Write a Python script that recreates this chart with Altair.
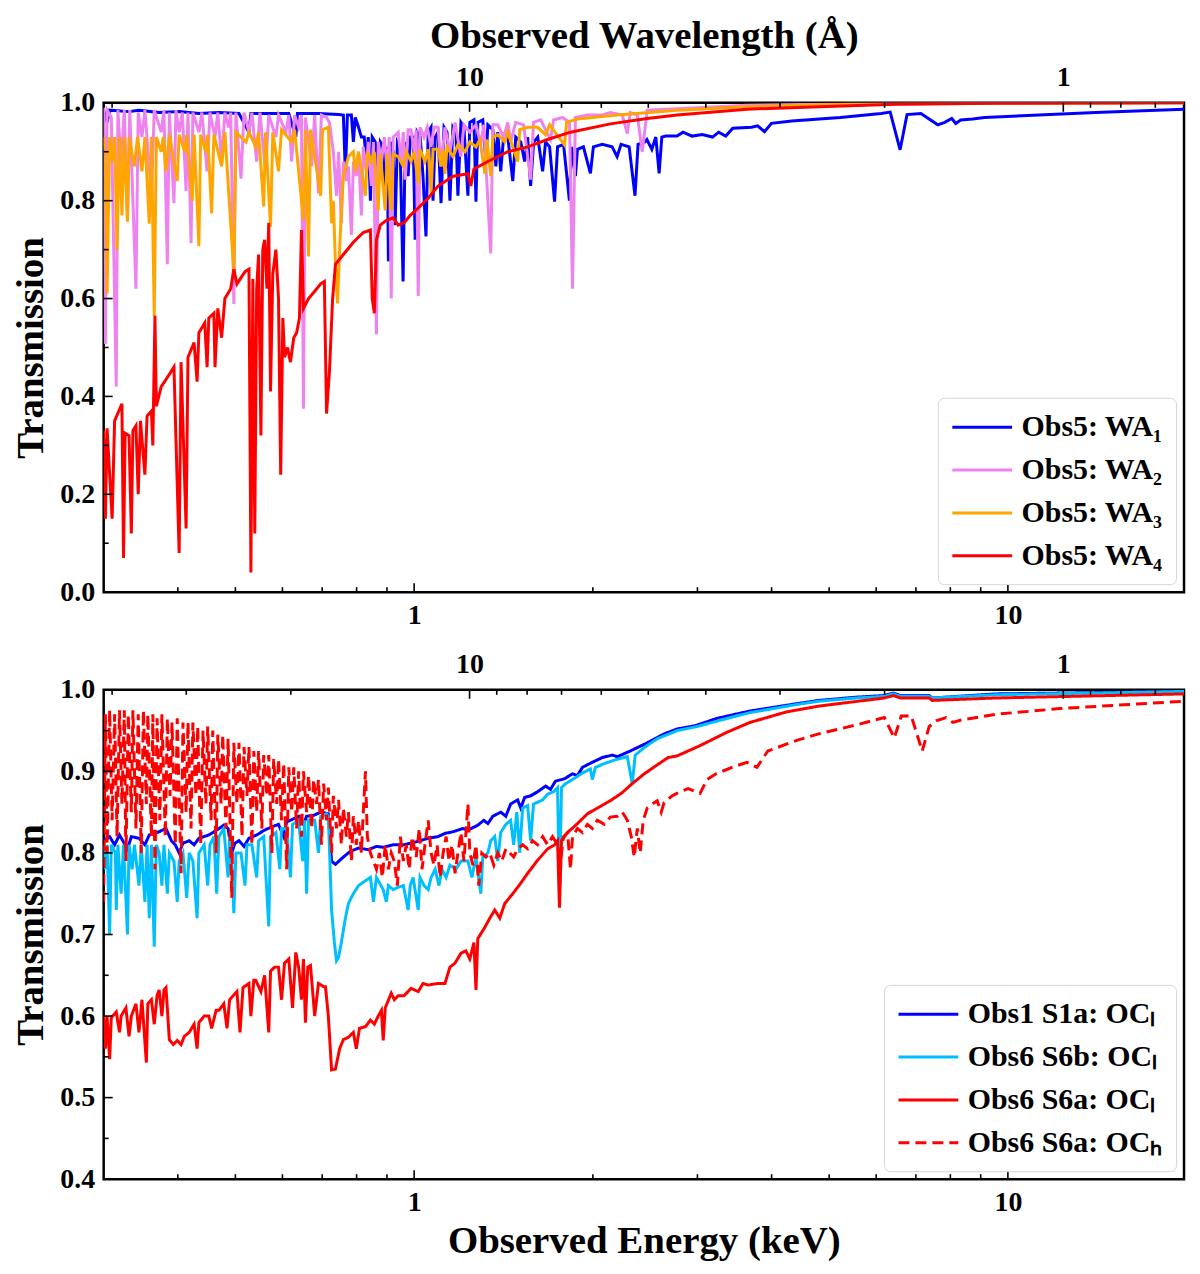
import altair as alt
import pandas as pd

FONT = "Liberation Serif"
HC = 12.398  # keV * Angstrom, wavelength = HC / energy
E_MIN, E_MAX = 0.3, 19.8
PANEL_W, PANEL_H = 1084, 491

# ---- top panel: Obs5 warm absorbers, (observed energy in keV, transmission)
WA1 = [
    (0.300, 0.985), (0.304, 0.96), (0.307, 0.985), (0.331, 0.982), (0.344, 0.985),
    (0.372, 0.98), (0.402, 0.982), (0.434, 0.978), (0.469, 0.98), (0.507, 0.978),
    (0.527, 0.94), (0.531, 0.978), (0.569, 0.978), (0.615, 0.978), (0.632, 0.93),
    (0.636, 0.978), (0.690, 0.978), (0.746, 0.976), (0.760, 0.975), (0.766, 0.855),
    (0.772, 0.975), (0.784, 0.975), (0.790, 0.92), (0.796, 0.97), (0.806, 0.95),
    (0.815, 0.93), (0.824, 0.93), (0.831, 0.88), (0.837, 0.93), (0.844, 0.80),
    (0.850, 0.93), (0.860, 0.92), (0.870, 0.85), (0.877, 0.92), (0.887, 0.91),
    (0.894, 0.82), (0.901, 0.91), (0.905, 0.676), (0.912, 0.92), (0.922, 0.90),
    (0.929, 0.75), (0.937, 0.92), (0.947, 0.91), (0.958, 0.635), (0.966, 0.92),
    (0.977, 0.85), (0.985, 0.93), (0.996, 0.93), (1.004, 0.72), (1.012, 0.94),
    (1.024, 0.93), (1.035, 0.85), (1.047, 0.727), (1.056, 0.94), (1.068, 0.95),
    (1.076, 0.80), (1.085, 0.93), (1.097, 0.94), (1.110, 0.795), (1.123, 0.95),
    (1.136, 0.94), (1.149, 0.80), (1.162, 0.95), (1.176, 0.94), (1.185, 0.81),
    (1.199, 0.96), (1.213, 0.95), (1.232, 0.81), (1.241, 0.96), (1.261, 0.965),
    (1.271, 0.798), (1.280, 0.96), (1.305, 0.965), (1.321, 0.88), (1.331, 0.955),
    (1.357, 0.945), (1.373, 0.87), (1.383, 0.94), (1.399, 0.86), (1.416, 0.935),
    (1.438, 0.93), (1.466, 0.84), (1.483, 0.93), (1.512, 0.92), (1.535, 0.88),
    (1.553, 0.93), (1.571, 0.83), (1.590, 0.92), (1.615, 0.93), (1.646, 0.86),
    (1.665, 0.92), (1.691, 0.91), (1.724, 0.798), (1.744, 0.91), (1.785, 0.915),
    (1.826, 0.80), (1.841, 0.91), (1.869, 0.85), (1.884, 0.905), (1.928, 0.91),
    (1.981, 0.856), (2.004, 0.91), (2.074, 0.915), (2.155, 0.91), (2.197, 0.89),
    (2.231, 0.915), (2.302, 0.91), (2.355, 0.81), (2.383, 0.915), (2.447, 0.92),
    (2.466, 0.925), (2.514, 0.905), (2.553, 0.93), (2.586, 0.856), (2.613, 0.93),
    (2.653, 0.932), (2.772, 0.932), (2.837, 0.94), (2.938, 0.932), (3.057, 0.935),
    (3.181, 0.93), (3.258, 0.94), (3.348, 0.932), (3.441, 0.948), (3.702, 0.95),
    (3.789, 0.953), (3.892, 0.941), (3.998, 0.958), (4.325, 0.963), (4.689, 0.966),
    (5.220, 0.970), (6.118, 0.978), (6.336, 0.981), (6.584, 0.904), (6.763, 0.976),
    (7.137, 0.978), (7.619, 0.955), (7.829, 0.96), (8.044, 0.968), (8.169, 0.958),
    (8.328, 0.965), (8.722, 0.967), (9.134, 0.97), (14.05, 0.98), (19.8, 0.987),
]

WA2 = [
    (0.300, 0.99), (0.302, 0.507), (0.304, 0.985), (0.309, 0.97), (0.315, 0.42),
    (0.317, 0.985), (0.321, 0.876), (0.325, 0.985), (0.329, 0.76), (0.332, 0.985),
    (0.340, 0.62), (0.343, 0.98), (0.348, 0.93), (0.352, 0.985), (0.361, 0.81),
    (0.365, 0.985), (0.375, 0.94), (0.379, 0.985), (0.384, 0.67), (0.387, 0.98),
    (0.394, 0.795), (0.397, 0.985), (0.402, 0.94), (0.407, 0.98), (0.413, 0.82),
    (0.416, 0.98), (0.421, 0.713), (0.424, 0.98), (0.434, 0.94), (0.439, 0.98),
    (0.448, 0.86), (0.453, 0.98), (0.462, 0.93), (0.467, 0.98), (0.474, 0.88),
    (0.480, 0.98), (0.487, 0.95), (0.491, 0.98), (0.497, 0.589), (0.501, 0.98),
    (0.511, 0.845), (0.517, 0.98), (0.527, 0.94), (0.533, 0.98), (0.543, 0.88),
    (0.550, 0.98), (0.562, 0.86), (0.569, 0.975), (0.585, 0.93), (0.591, 0.975),
    (0.608, 0.94), (0.615, 0.975), (0.622, 0.88), (0.629, 0.975), (0.639, 0.95),
    (0.646, 0.975), (0.651, 0.375), (0.656, 0.97), (0.672, 0.87), (0.680, 0.975),
    (0.690, 0.815), (0.698, 0.975), (0.712, 0.97), (0.720, 0.96), (0.731, 0.90),
    (0.740, 0.81), (0.746, 0.90), (0.754, 0.754), (0.760, 0.88), (0.769, 0.84),
    (0.775, 0.87), (0.784, 0.73), (0.790, 0.88), (0.799, 0.85), (0.806, 0.90),
    (0.815, 0.77), (0.821, 0.91), (0.831, 0.86), (0.837, 0.92), (0.847, 0.83),
    (0.854, 0.92), (0.864, 0.527), (0.870, 0.92), (0.881, 0.88), (0.891, 0.93),
    (0.901, 0.86), (0.908, 0.93), (0.915, 0.60), (0.922, 0.93), (0.940, 0.94),
    (0.951, 0.88), (0.959, 0.94), (0.966, 0.843), (0.977, 0.945), (0.988, 0.945),
    (1.000, 0.90), (1.008, 0.945), (1.016, 0.605), (1.023, 0.95), (1.039, 0.93),
    (1.052, 0.95), (1.068, 0.91), (1.080, 0.95), (1.097, 0.95), (1.110, 0.87),
    (1.127, 0.95), (1.149, 0.90), (1.172, 0.96), (1.199, 0.89), (1.213, 0.955),
    (1.241, 0.94), (1.271, 0.955), (1.295, 0.915), (1.310, 0.955), (1.346, 0.692),
    (1.357, 0.955), (1.383, 0.955), (1.416, 0.93), (1.438, 0.96), (1.454, 0.92),
    (1.483, 0.96), (1.529, 0.955), (1.571, 0.843), (1.589, 0.96), (1.633, 0.965),
    (1.697, 0.925), (1.717, 0.965), (1.778, 0.97), (1.827, 0.96), (1.848, 0.62),
    (1.869, 0.97), (1.958, 0.975), (2.075, 0.975), (2.140, 0.98), (2.242, 0.975),
    (2.286, 0.937), (2.312, 0.98), (2.376, 0.975), (2.422, 0.90), (2.469, 0.985),
    (2.773, 0.988), (3.635, 0.995), (6.488, 0.999), (19.8, 1.0),
]

WA3 = [
    (0.300, 0.93), (0.302, 0.90), (0.304, 0.61), (0.307, 0.93), (0.310, 0.88),
    (0.313, 0.93), (0.316, 0.70), (0.319, 0.93), (0.322, 0.77), (0.325, 0.93),
    (0.329, 0.757), (0.331, 0.93), (0.338, 0.87), (0.342, 0.93), (0.348, 0.86),
    (0.352, 0.93), (0.358, 0.753), (0.361, 0.93), (0.365, 0.564), (0.368, 0.93),
    (0.375, 0.90), (0.378, 0.93), (0.382, 0.86), (0.387, 0.935), (0.399, 0.84),
    (0.402, 0.935), (0.411, 0.90), (0.414, 0.935), (0.423, 0.80), (0.426, 0.935),
    (0.434, 0.707), (0.437, 0.935), (0.446, 0.90), (0.449, 0.935), (0.456, 0.774),
    (0.460, 0.935), (0.474, 0.87), (0.480, 0.94), (0.497, 0.652), (0.501, 0.94),
    (0.521, 0.92), (0.527, 0.94), (0.541, 0.91), (0.547, 0.94), (0.558, 0.788),
    (0.562, 0.94), (0.573, 0.747), (0.578, 0.94), (0.591, 0.86), (0.598, 0.945),
    (0.622, 0.92), (0.629, 0.945), (0.651, 0.76), (0.656, 0.945), (0.664, 0.686),
    (0.669, 0.945), (0.696, 0.81), (0.701, 0.945), (0.717, 0.95), (0.726, 0.754),
    (0.731, 0.80), (0.737, 0.672), (0.743, 0.59), (0.749, 0.70), (0.754, 0.78),
    (0.760, 0.85), (0.775, 0.89), (0.790, 0.90), (0.796, 0.86), (0.806, 0.90),
    (0.828, 0.81), (0.834, 0.90), (0.847, 0.88), (0.857, 0.90), (0.870, 0.78),
    (0.877, 0.895), (0.894, 0.78), (0.901, 0.895), (0.915, 0.78), (0.922, 0.895),
    (0.940, 0.89), (0.959, 0.87), (0.970, 0.90), (0.988, 0.88), (1.000, 0.90),
    (1.016, 0.835), (1.023, 0.905), (1.043, 0.88), (1.056, 0.905), (1.068, 0.815),
    (1.076, 0.905), (1.097, 0.905), (1.110, 0.87), (1.119, 0.905), (1.127, 0.855),
    (1.136, 0.91), (1.163, 0.89), (1.185, 0.915), (1.218, 0.90), (1.241, 0.92),
    (1.271, 0.91), (1.290, 0.925), (1.316, 0.855), (1.326, 0.925), (1.346, 0.85),
    (1.357, 0.93), (1.383, 0.935), (1.421, 0.92), (1.438, 0.94), (1.494, 0.88),
    (1.506, 0.945), (1.553, 0.95), (1.614, 0.95), (1.665, 0.935), (1.691, 0.955),
    (1.792, 0.914), (1.806, 0.96), (1.884, 0.967), (2.199, 0.975), (2.773, 0.985),
    (3.635, 0.992), (5.348, 0.997), (9.549, 0.999), (19.8, 1.0),
]

WA4 = [
    (0.300, 0.33), (0.302, 0.15), (0.304, 0.335), (0.310, 0.15), (0.313, 0.35),
    (0.322, 0.385), (0.324, 0.07), (0.326, 0.325), (0.331, 0.32), (0.334, 0.12),
    (0.336, 0.33), (0.340, 0.34), (0.343, 0.20), (0.346, 0.35), (0.352, 0.24),
    (0.355, 0.36), (0.361, 0.37), (0.363, 0.30), (0.366, 0.565), (0.368, 0.38),
    (0.375, 0.42), (0.387, 0.445), (0.394, 0.46), (0.402, 0.08), (0.405, 0.47),
    (0.413, 0.13), (0.416, 0.48), (0.426, 0.51), (0.431, 0.43), (0.434, 0.53),
    (0.444, 0.55), (0.448, 0.46), (0.451, 0.56), (0.460, 0.57), (0.462, 0.46),
    (0.467, 0.58), (0.474, 0.52), (0.480, 0.60), (0.491, 0.62), (0.497, 0.66),
    (0.503, 0.63), (0.519, 0.655), (0.527, 0.66), (0.531, 0.04), (0.535, 0.64),
    (0.539, 0.12), (0.543, 0.62), (0.547, 0.69), (0.552, 0.32), (0.556, 0.70),
    (0.560, 0.72), (0.565, 0.62), (0.569, 0.755), (0.573, 0.41), (0.578, 0.65),
    (0.585, 0.70), (0.591, 0.60), (0.596, 0.24), (0.601, 0.56), (0.605, 0.48),
    (0.612, 0.50), (0.619, 0.47), (0.627, 0.52), (0.634, 0.53), (0.641, 0.56),
    (0.646, 0.74), (0.651, 0.58), (0.664, 0.60), (0.680, 0.615), (0.696, 0.63),
    (0.706, 0.635), (0.712, 0.365), (0.720, 0.45), (0.729, 0.60), (0.737, 0.67),
    (0.760, 0.69), (0.790, 0.715), (0.821, 0.735), (0.844, 0.74), (0.850, 0.60),
    (0.857, 0.57), (0.864, 0.72), (0.877, 0.75), (0.898, 0.76), (0.922, 0.765),
    (0.940, 0.75), (0.962, 0.755), (0.985, 0.77), (1.016, 0.785), (1.056, 0.805),
    (1.097, 0.83), (1.163, 0.85), (1.232, 0.855), (1.246, 0.83), (1.261, 0.865),
    (1.331, 0.88), (1.438, 0.90), (1.553, 0.91), (1.678, 0.925), (1.834, 0.94),
    (2.140, 0.957), (2.469, 0.968), (2.773, 0.975), (3.635, 0.987), (4.818, 0.992),
    (6.488, 0.997), (9.549, 0.999), (19.8, 1.0),
]

# ---- bottom panel: obscurer components, (observed energy in keV, transmission)
S1A_OCL = [
    (0.300, 0.815), (0.307, 0.82), (0.313, 0.81), (0.319, 0.822), (0.329, 0.805),
    (0.334, 0.82), (0.344, 0.818), (0.352, 0.81), (0.358, 0.822), (0.372, 0.826),
    (0.382, 0.83), (0.390, 0.815), (0.396, 0.81), (0.402, 0.80), (0.408, 0.812),
    (0.418, 0.815), (0.426, 0.81), (0.434, 0.818), (0.451, 0.822), (0.465, 0.828),
    (0.478, 0.834), (0.486, 0.83), (0.493, 0.80), (0.499, 0.812), (0.507, 0.815),
    (0.517, 0.808), (0.527, 0.818), (0.543, 0.822), (0.560, 0.828), (0.576, 0.832),
    (0.591, 0.835), (0.603, 0.82), (0.610, 0.838), (0.627, 0.842), (0.639, 0.845),
    (0.651, 0.835), (0.659, 0.845), (0.677, 0.846), (0.696, 0.85), (0.717, 0.848),
    (0.726, 0.79), (0.737, 0.786), (0.760, 0.795), (0.781, 0.802), (0.806, 0.806),
    (0.837, 0.804), (0.864, 0.808), (0.887, 0.807), (0.922, 0.81), (0.959, 0.81),
    (0.988, 0.812), (1.023, 0.815), (1.056, 0.818), (1.097, 0.82), (1.127, 0.824),
    (1.163, 0.826), (1.208, 0.83), (1.232, 0.828), (1.280, 0.834), (1.310, 0.84),
    (1.331, 0.836), (1.357, 0.845), (1.399, 0.85), (1.427, 0.845), (1.454, 0.86),
    (1.494, 0.865), (1.512, 0.855), (1.535, 0.868), (1.571, 0.87), (1.614, 0.875),
    (1.665, 0.882), (1.697, 0.878), (1.730, 0.888), (1.792, 0.891), (1.848, 0.897),
    (1.884, 0.895), (1.921, 0.905), (1.981, 0.91), (2.075, 0.917), (2.157, 0.92),
    (2.199, 0.918), (2.312, 0.925), (2.422, 0.932), (2.469, 0.935), (2.637, 0.946),
    (2.773, 0.952), (2.973, 0.956), (3.237, 0.965), (3.677, 0.974), (4.409, 0.983),
    (4.800, 0.987), (5.559, 0.991), (6.194, 0.993), (6.413, 0.996), (6.589, 0.993),
    (7.369, 0.993), (7.455, 0.99), (9.549, 0.995), (19.8, 0.998),
]

S6B_OCL = [
    (0.300, 0.81), (0.302, 0.78), (0.304, 0.81), (0.307, 0.70), (0.309, 0.81),
    (0.314, 0.80), (0.315, 0.73), (0.317, 0.81), (0.321, 0.75), (0.324, 0.81),
    (0.329, 0.70), (0.331, 0.81), (0.335, 0.78), (0.338, 0.81), (0.344, 0.76),
    (0.347, 0.81), (0.352, 0.74), (0.355, 0.81), (0.358, 0.72), (0.361, 0.81),
    (0.365, 0.685), (0.368, 0.81), (0.372, 0.80), (0.376, 0.76), (0.379, 0.81),
    (0.384, 0.75), (0.387, 0.80), (0.394, 0.79), (0.399, 0.74), (0.402, 0.79),
    (0.408, 0.80), (0.414, 0.745), (0.418, 0.80), (0.424, 0.79), (0.431, 0.72),
    (0.434, 0.80), (0.443, 0.81), (0.449, 0.76), (0.453, 0.81), (0.460, 0.82),
    (0.465, 0.75), (0.469, 0.82), (0.478, 0.83), (0.486, 0.77), (0.489, 0.82),
    (0.493, 0.79), (0.497, 0.726), (0.501, 0.80), (0.511, 0.80), (0.519, 0.76),
    (0.523, 0.81), (0.533, 0.81), (0.543, 0.77), (0.547, 0.815), (0.558, 0.82),
    (0.569, 0.71), (0.573, 0.82), (0.585, 0.825), (0.594, 0.78), (0.598, 0.83),
    (0.610, 0.83), (0.619, 0.77), (0.624, 0.835), (0.639, 0.84), (0.649, 0.79),
    (0.654, 0.84), (0.659, 0.75), (0.664, 0.84), (0.680, 0.84), (0.690, 0.80),
    (0.696, 0.845), (0.712, 0.848), (0.717, 0.845), (0.726, 0.73), (0.734, 0.69),
    (0.740, 0.668), (0.746, 0.672), (0.754, 0.69), (0.766, 0.72), (0.775, 0.738),
    (0.790, 0.75), (0.806, 0.76), (0.828, 0.766), (0.844, 0.77), (0.854, 0.74),
    (0.864, 0.77), (0.887, 0.755), (0.898, 0.74), (0.905, 0.76), (0.922, 0.755),
    (0.940, 0.758), (0.959, 0.76), (0.977, 0.73), (0.985, 0.76), (0.996, 0.77),
    (1.016, 0.73), (1.023, 0.77), (1.039, 0.76), (1.056, 0.755), (1.068, 0.77),
    (1.085, 0.78), (1.101, 0.76), (1.114, 0.78), (1.132, 0.77), (1.149, 0.785),
    (1.176, 0.78), (1.199, 0.79), (1.232, 0.79), (1.251, 0.77), (1.271, 0.795),
    (1.295, 0.75), (1.305, 0.795), (1.331, 0.80), (1.346, 0.815), (1.367, 0.82),
    (1.383, 0.79), (1.399, 0.825), (1.427, 0.835), (1.454, 0.84), (1.471, 0.81),
    (1.489, 0.85), (1.506, 0.80), (1.523, 0.855), (1.553, 0.858), (1.571, 0.815),
    (1.589, 0.86), (1.646, 0.865), (1.678, 0.872), (1.717, 0.875), (1.744, 0.88),
    (1.757, 0.75), (1.771, 0.88), (1.799, 0.885), (1.848, 0.89), (1.921, 0.898),
    (1.981, 0.903), (1.996, 0.89), (2.020, 0.905), (2.099, 0.91), (2.199, 0.915),
    (2.286, 0.918), (2.330, 0.885), (2.357, 0.92), (2.450, 0.93), (2.567, 0.94),
    (2.773, 0.95), (2.996, 0.955), (3.365, 0.965), (3.677, 0.972), (4.409, 0.982),
    (4.800, 0.986), (5.559, 0.99), (6.194, 0.992), (6.413, 0.995), (6.589, 0.992),
    (7.369, 0.992), (7.455, 0.99), (9.549, 0.994), (19.8, 0.998),
]

S6A_OCL = [
    (0.300, 0.60), (0.302, 0.56), (0.304, 0.60), (0.307, 0.547), (0.309, 0.598),
    (0.315, 0.605), (0.319, 0.58), (0.321, 0.60), (0.327, 0.61), (0.331, 0.575),
    (0.334, 0.60), (0.340, 0.615), (0.344, 0.58), (0.348, 0.62), (0.354, 0.543),
    (0.356, 0.615), (0.361, 0.62), (0.365, 0.59), (0.369, 0.625), (0.372, 0.632),
    (0.376, 0.60), (0.379, 0.632), (0.382, 0.635), (0.387, 0.571), (0.393, 0.565),
    (0.399, 0.57), (0.405, 0.565), (0.410, 0.575), (0.418, 0.58), (0.426, 0.59),
    (0.431, 0.56), (0.434, 0.592), (0.443, 0.60), (0.451, 0.60), (0.456, 0.585),
    (0.464, 0.607), (0.469, 0.607), (0.478, 0.615), (0.484, 0.585), (0.489, 0.62),
    (0.493, 0.623), (0.503, 0.63), (0.509, 0.58), (0.515, 0.635), (0.527, 0.64),
    (0.531, 0.60), (0.537, 0.644), (0.541, 0.644), (0.552, 0.63), (0.560, 0.65),
    (0.569, 0.58), (0.573, 0.655), (0.582, 0.66), (0.591, 0.66), (0.598, 0.62),
    (0.605, 0.665), (0.615, 0.67), (0.624, 0.61), (0.632, 0.678), (0.639, 0.66),
    (0.646, 0.62), (0.651, 0.67), (0.656, 0.592), (0.662, 0.66), (0.669, 0.662),
    (0.680, 0.60), (0.690, 0.64), (0.704, 0.636), (0.709, 0.636), (0.717, 0.60),
    (0.726, 0.534), (0.737, 0.535), (0.749, 0.56), (0.760, 0.571), (0.775, 0.574),
    (0.790, 0.58), (0.799, 0.56), (0.809, 0.585), (0.828, 0.587), (0.844, 0.595),
    (0.857, 0.59), (0.870, 0.60), (0.881, 0.607), (0.887, 0.57), (0.894, 0.61),
    (0.915, 0.628), (0.926, 0.62), (0.940, 0.625), (0.962, 0.625), (0.988, 0.634),
    (1.016, 0.63), (1.035, 0.64), (1.056, 0.638), (1.097, 0.64), (1.127, 0.64),
    (1.149, 0.66), (1.172, 0.665), (1.199, 0.677), (1.222, 0.68), (1.241, 0.67),
    (1.261, 0.69), (1.271, 0.632), (1.280, 0.695), (1.316, 0.709), (1.341, 0.72),
    (1.367, 0.73), (1.394, 0.72), (1.421, 0.738), (1.466, 0.75), (1.512, 0.763),
    (1.553, 0.775), (1.614, 0.791), (1.678, 0.805), (1.724, 0.81), (1.744, 0.815),
    (1.757, 0.733), (1.771, 0.815), (1.813, 0.825), (1.884, 0.836), (1.958, 0.848),
    (2.035, 0.855), (2.140, 0.864), (2.242, 0.874), (2.330, 0.885), (2.441, 0.897),
    (2.567, 0.908), (2.678, 0.917), (2.773, 0.919), (3.019, 0.931), (3.365, 0.948),
    (3.677, 0.96), (4.242, 0.973), (4.800, 0.98), (6.194, 0.99), (6.413, 0.993),
    (6.589, 0.99), (7.369, 0.99), (7.455, 0.987), (9.549, 0.99), (19.8, 0.995),
]

S6A_OCH = [
    (0.300, 0.74), (0.302, 0.97), (0.304, 0.80), (0.307, 0.975), (0.310, 0.84),
    (0.313, 0.97), (0.316, 0.82), (0.319, 0.975), (0.322, 0.86), (0.325, 0.975),
    (0.327, 0.79), (0.330, 0.97), (0.334, 0.85), (0.336, 0.975), (0.340, 0.83),
    (0.343, 0.97), (0.347, 0.80), (0.350, 0.975), (0.354, 0.86), (0.356, 0.97),
    (0.361, 0.82), (0.363, 0.97), (0.366, 0.78), (0.369, 0.965), (0.373, 0.84),
    (0.376, 0.97), (0.381, 0.82), (0.384, 0.965), (0.388, 0.87), (0.391, 0.96),
    (0.396, 0.81), (0.399, 0.965), (0.405, 0.775), (0.408, 0.96), (0.413, 0.85),
    (0.416, 0.96), (0.421, 0.83), (0.424, 0.96), (0.429, 0.87), (0.432, 0.955),
    (0.437, 0.81), (0.441, 0.95), (0.446, 0.86), (0.449, 0.955), (0.455, 0.84),
    (0.458, 0.95), (0.464, 0.80), (0.467, 0.945), (0.473, 0.86), (0.476, 0.945),
    (0.482, 0.83), (0.486, 0.94), (0.493, 0.745), (0.497, 0.935), (0.503, 0.86),
    (0.507, 0.935), (0.513, 0.82), (0.517, 0.93), (0.523, 0.87), (0.527, 0.93),
    (0.533, 0.81), (0.537, 0.925), (0.543, 0.85), (0.547, 0.925), (0.554, 0.83),
    (0.558, 0.92), (0.565, 0.87), (0.569, 0.92), (0.576, 0.80), (0.580, 0.915),
    (0.587, 0.86), (0.591, 0.915), (0.598, 0.84), (0.603, 0.91), (0.610, 0.78),
    (0.615, 0.905), (0.622, 0.85), (0.627, 0.905), (0.634, 0.83), (0.639, 0.90),
    (0.646, 0.82), (0.651, 0.90), (0.659, 0.85), (0.664, 0.895), (0.672, 0.83),
    (0.677, 0.89), (0.685, 0.86), (0.690, 0.89), (0.698, 0.81), (0.704, 0.885),
    (0.712, 0.84), (0.717, 0.88), (0.726, 0.80), (0.731, 0.87), (0.740, 0.83),
    (0.746, 0.865), (0.754, 0.81), (0.760, 0.855), (0.769, 0.82), (0.775, 0.85),
    (0.784, 0.79), (0.790, 0.845), (0.799, 0.81), (0.806, 0.84), (0.815, 0.80),
    (0.821, 0.85), (0.828, 0.90), (0.834, 0.82), (0.844, 0.80), (0.854, 0.79),
    (0.864, 0.78), (0.874, 0.80), (0.884, 0.77), (0.894, 0.81), (0.905, 0.78),
    (0.915, 0.80), (0.926, 0.79), (0.937, 0.76), (0.948, 0.82), (0.959, 0.79),
    (0.970, 0.81), (0.981, 0.78), (0.992, 0.82), (1.008, 0.795), (1.020, 0.83),
    (1.031, 0.78), (1.043, 0.81), (1.056, 0.84), (1.068, 0.80), (1.080, 0.785),
    (1.093, 0.81), (1.106, 0.77), (1.119, 0.80), (1.132, 0.82), (1.145, 0.79),
    (1.158, 0.81), (1.172, 0.775), (1.185, 0.80), (1.199, 0.825), (1.213, 0.79),
    (1.232, 0.86), (1.241, 0.80), (1.256, 0.785), (1.271, 0.81), (1.285, 0.76),
    (1.300, 0.80), (1.321, 0.795), (1.341, 0.80), (1.362, 0.785), (1.383, 0.80),
    (1.405, 0.79), (1.427, 0.805), (1.449, 0.80), (1.471, 0.795), (1.494, 0.805),
    (1.523, 0.81), (1.553, 0.805), (1.583, 0.815), (1.614, 0.81), (1.646, 0.82),
    (1.678, 0.81), (1.710, 0.82), (1.744, 0.81), (1.764, 0.79), (1.785, 0.82),
    (1.813, 0.825), (1.834, 0.78), (1.848, 0.82), (1.884, 0.83), (1.921, 0.825),
    (1.958, 0.835), (1.996, 0.83), (2.035, 0.84), (2.091, 0.835), (2.140, 0.844),
    (2.199, 0.845), (2.242, 0.85), (2.286, 0.84), (2.321, 0.82), (2.348, 0.795),
    (2.376, 0.83), (2.403, 0.80), (2.431, 0.84), (2.469, 0.855), (2.518, 0.86),
    (2.567, 0.864), (2.607, 0.85), (2.637, 0.862), (2.720, 0.87), (2.805, 0.875),
    (2.894, 0.879), (2.961, 0.876), (3.031, 0.873), (3.114, 0.89), (3.224, 0.897),
    (3.431, 0.905), (3.635, 0.911), (3.778, 0.905), (3.942, 0.925), (4.409, 0.938),
    (4.800, 0.946), (5.559, 0.957), (6.194, 0.966), (6.438, 0.941), (6.614, 0.968),
    (6.874, 0.968), (7.173, 0.925), (7.369, 0.955), (7.571, 0.962), (7.869, 0.966),
    (8.085, 0.96), (8.338, 0.963), (9.549, 0.97), (12.23, 0.977), (19.8, 0.986),
]

TOP_NAMES = ["Obs5: WA₁", "Obs5: WA₂", "Obs5: WA₃", "Obs5: WA₄"]
TOP_COLORS = ["#0000ff", "#ee82ee", "#ffa500", "#ff0000"]
BOT_NAMES = ["Obs1 S1a: OCₗ", "Obs6 S6b: OCₗ", "Obs6 S6a: OCₗ", "Obs6 S6a: OCₕ"]
BOT_COLORS = ["#0000ff", "#00bfff", "#ff0000", "#ff0000"]
BOT_DASHES = [[1, 0], [1, 0], [1, 0], [11, 6]]

# tick positions
E_MAJOR = [1, 10]
E_MINOR = [0.4, 0.5, 0.6, 0.7, 0.8, 0.9, 2, 3, 4, 5, 6, 7, 8, 9]
LAM_MAJOR = [10, 1]
LAM_MINOR = [40, 30, 20, 9, 8, 7, 6, 5, 4, 3, 2, 0.9, 0.8, 0.7]
TOP_Y_MAJOR = [0.0, 0.2, 0.4, 0.6, 0.8, 1.0]
TOP_Y_MINOR = [0.1, 0.3, 0.5, 0.7, 0.9]
BOT_Y_MAJOR = [0.4, 0.5, 0.6, 0.7, 0.8, 0.9, 1.0]
BOT_Y_MINOR = [0.45, 0.55, 0.65, 0.75, 0.85, 0.95]

E_SCALE = alt.Scale(type="log", domain=[E_MIN, E_MAX], nice=False)
LAM_SCALE = alt.Scale(type="log", domain=[HC / E_MAX, HC / E_MIN], nice=False, reverse=True)


def frame(points, name):
    df = pd.DataFrame(points, columns=["energy", "trans"])
    df["series"] = name
    df["idx"] = range(len(df))
    return df


def ticks_x(values, scale, size, top, axis):
    # inward ticks drawn along the top or bottom edge
    base = 0 if top else PANEL_H
    tip = size if top else PANEL_H - size
    return alt.Chart(pd.DataFrame({"v": values})).mark_rule(color="black", strokeWidth=1.6).encode(
        x=alt.X("v:Q", scale=scale, axis=axis),
        y=alt.value(base),
        y2=alt.value(tip),
    )


def ticks_y(values, scale, size, axis):
    return alt.Chart(pd.DataFrame({"v": values})).mark_rule(color="black", strokeWidth=1.6).encode(
        y=alt.Y("v:Q", scale=scale, axis=axis),
        x=alt.value(0),
        x2=alt.value(size),
    )


def panel(series, names, colors, y_dom, y_major, y_minor, x_title, lam_title, dashes=None):
    y_scale = alt.Scale(domain=y_dom, nice=False, zero=False)
    legend = alt.Legend(
        title=None, orient="bottom-right", offset=8, padding=13,
        fillColor="white", strokeColor="#d6d6d6", cornerRadius=6,
        symbolType="M-1,0H3", symbolSize=900, symbolStrokeWidth=3,
        labelOffset=38, rowPadding=11, labelLimit=400,
        labelFont=FONT, labelFontSize=30, labelFontWeight="bold", labelColor="black",
    )
    x_axis = alt.Axis(values=E_MAJOR, format="~g", ticks=False, domain=False,
                      grid=False, labelPadding=9, title=x_title, titlePadding=6)
    y_axis = alt.Axis(values=y_major, format=".1f", ticks=False, domain=False,
                      grid=False, labelPadding=9, title="Transmission", titlePadding=9)
    color = alt.Color("series:N", scale=alt.Scale(domain=names, range=colors), legend=legend)

    lines = []
    for points, name in zip(series, names):
        enc = {
            "x": alt.X("energy:Q", scale=E_SCALE, axis=x_axis),
            "y": alt.Y("trans:Q", scale=y_scale, axis=y_axis),
            "color": color,
            "order": alt.Order("idx:Q"),
        }
        if dashes:
            enc["strokeDash"] = alt.StrokeDash(
                "series:N", scale=alt.Scale(domain=names, range=dashes), legend=legend)
        lines.append(alt.Chart(frame(points, name)).mark_line(strokeWidth=3, clip=True).encode(**enc))

    energy_group = alt.layer(
        *lines,
        ticks_x(E_MAJOR, E_SCALE, 9, False, x_axis),
        ticks_x(E_MINOR, E_SCALE, 5, False, x_axis),
        ticks_y(y_major, y_scale, 9, y_axis),
        ticks_y(y_minor, y_scale, 5, y_axis),
    )
    lam_axis = alt.Axis(orient="top", values=LAM_MAJOR, format="~g", ticks=False,
                        domain=False, grid=False, labelPadding=11, title=lam_title, titlePadding=8)
    lam_group = alt.layer(
        ticks_x(LAM_MAJOR, LAM_SCALE, 9, True, lam_axis),
        ticks_x(LAM_MINOR, LAM_SCALE, 5, True, lam_axis),
    )
    return alt.layer(energy_group, lam_group).resolve_scale(x="independent").properties(
        width=PANEL_W, height=PANEL_H)


top = panel([WA1, WA2, WA3, WA4], TOP_NAMES, TOP_COLORS, [0, 1], TOP_Y_MAJOR, TOP_Y_MINOR,
            None, "Observed Wavelength (Å)")
bottom = panel([S1A_OCL, S6B_OCL, S6A_OCL, S6A_OCH], BOT_NAMES, BOT_COLORS, [0.4, 1.0],
               BOT_Y_MAJOR, BOT_Y_MINOR, "Observed Energy (keV)", None, dashes=BOT_DASHES)

chart = alt.vconcat(top, bottom, spacing=18).resolve_scale(
    color="independent", strokeDash="independent"
).properties(
    padding={"left": 2, "top": 5, "right": 6, "bottom": 4}
).configure_axis(
    labelFont=FONT, titleFont=FONT, labelFontSize=28, titleFontSize=39,
    labelFontWeight="bold", titleFontWeight="bold", labelColor="black", titleColor="black",
).configure_view(stroke="black", strokeWidth=2.5)

chart.save("out.html", embed_options={"renderer": "svg", "actions": False})
